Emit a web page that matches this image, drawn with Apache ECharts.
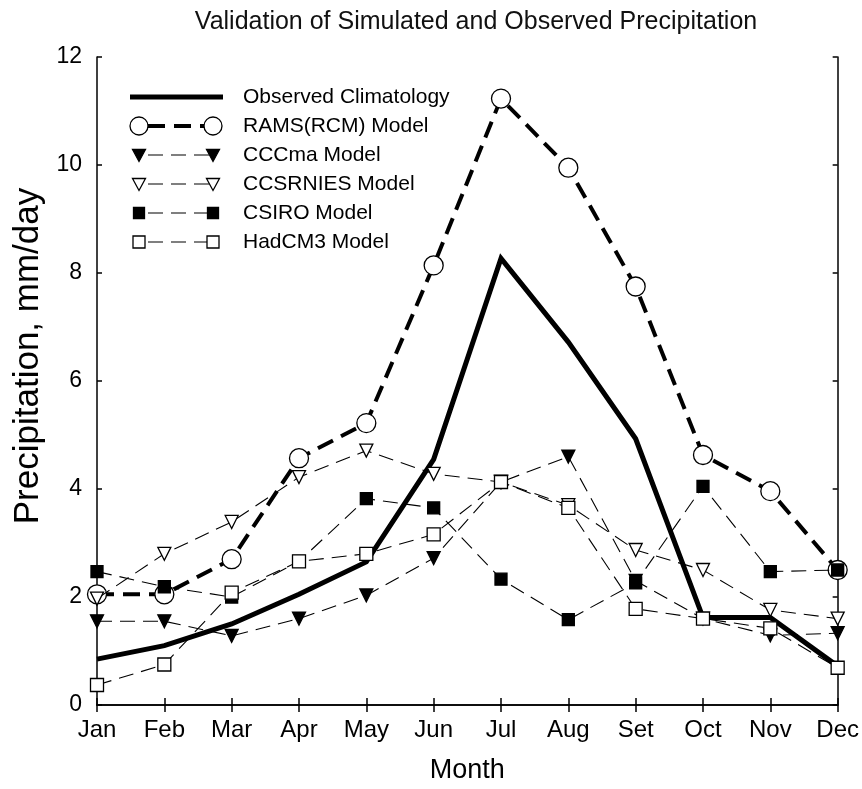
<!DOCTYPE html>
<html>
<head>
<meta charset="utf-8">
<title>Validation of Simulated and Observed Precipitation</title>
<script src="https://cdn.jsdelivr.net/npm/echarts@6/dist/echarts.min.js"></script>
<style>
  html, body { margin: 0; padding: 0; background: #fff; }
  #chart { width: 862px; height: 789px; }
</style>
</head>
<body>
<div id="chart"></div>
<script>
// Monthly mean precipitation (mm/day): observed climatology vs. simulations
var months = ['Jan', 'Feb', 'Mar', 'Apr', 'May', 'Jun', 'Jul', 'Aug', 'Set', 'Oct', 'Nov', 'Dec'];
var yTicks = [0, 2, 4, 6, 8, 10, 12];

var observed = [0.85, 1.10, 1.50, 2.05, 2.65, 4.55, 8.27, 6.72, 4.93, 1.62, 1.62, 0.72];
var rams     = [2.05, 2.05, 2.70, 4.57, 5.22, 8.14, 11.23, 9.95, 7.75, 4.63, 3.96, 2.50];
var cccma    = [1.55, 1.55, 1.28, 1.60, 2.03, 2.72, 4.13, 4.60, 2.30, 1.60, 1.29, 1.33];
var ccsrnies = [1.97, 2.80, 3.39, 4.22, 4.71, 4.28, 4.13, 3.70, 2.87, 2.50, 1.76, 1.60];
var csiro    = [2.47, 2.19, 2.00, 2.66, 3.82, 3.65, 2.33, 1.58, 2.26, 4.05, 2.47, 2.50];
var hadcm3   = [0.37, 0.75, 2.08, 2.66, 2.80, 3.16, 4.13, 3.65, 1.78, 1.60, 1.42, 0.69];

var FONT = '"Liberation Sans", Arial, sans-serif';

// Visual style for each series
var styles = {
  observed: { width: 5, dash: 'solid', symbol: 'none' },
  rams:     { width: 4, dash: [17, 9], symbol: 'circle', size: 19, fill: '#fff', rotate: 0 },
  cccma:    { width: 1.1, dash: [15, 8], symbol: 'triangle', size: 13, fill: '#000', rotate: 180 },
  ccsrnies: { width: 1.1, dash: [15, 8], symbol: 'triangle', size: 13, fill: '#fff', rotate: 180 },
  csiro:    { width: 1.1, dash: [15, 8], symbol: 'rect', size: 12, fill: '#000', rotate: 0 },
  hadcm3:   { width: 1.1, dash: [15, 8], symbol: 'rect', size: 13, fill: '#fff', rotate: 0 }
};

var seriesDefs = [
  { name: 'Observed Climatology', data: observed, st: styles.observed },
  { name: 'RAMS(RCM) Model', data: rams, st: styles.rams },
  { name: 'CCCma Model', data: cccma, st: styles.cccma },
  { name: 'CCSRNIES Model', data: ccsrnies, st: styles.ccsrnies },
  { name: 'CSIRO Model', data: csiro, st: styles.csiro },
  { name: 'HadCM3 Model', data: hadcm3, st: styles.hadcm3 }
];

var series = seriesDefs.map(function (d, i) {
  var s = d.st;
  return {
    name: d.name,
    type: 'line',
    data: d.data,
    z: 2 + i,
    symbol: s.symbol,
    symbolSize: s.size || 0,
    symbolRotate: s.rotate || 0,
    showSymbol: s.symbol !== 'none',
    animation: false,
    lineStyle: { color: '#000', width: s.width, type: s.dash, cap: 'butt', join: 'miter' },
    itemStyle: { color: s.fill || '#000', borderColor: '#000', borderWidth: 1.3, opacity: 1 },
    emphasis: { disabled: true }
  };
});

// Legend drawn as a small key in the upper-left of the plot
var legendGraphics = [];
var keyX0 = 139, keyX1 = 213, textX = 243, rowY0 = 97, rowStep = 29;
seriesDefs.forEach(function (d, i) {
  var s = d.st, y = rowY0 + i * rowStep;
  if (s.symbol === 'none') {
    legendGraphics.push({
      type: 'line', shape: { x1: 130, y1: y, x2: 223, y2: y },
      style: { stroke: '#000', lineWidth: s.width, lineCap: 'butt' }, z: 10
    });
  } else {
    legendGraphics.push({
      type: 'line', shape: { x1: keyX0, y1: y, x2: keyX1, y2: y },
      style: { stroke: '#000', lineWidth: s.width, lineDash: s.dash, lineDashOffset: -9 }, z: 10
    });
    [keyX0, keyX1].forEach(function (cx) {
      var g;
      var h = s.size / 2;
      if (s.symbol === 'circle') {
        g = { type: 'circle', shape: { cx: cx, cy: y, r: h - 0.5 } };
      } else if (s.symbol === 'rect') {
        g = { type: 'rect', shape: { x: cx - h + 0.5, y: y - h + 0.5, width: s.size - 1, height: s.size - 1 } };
      } else {
        g = { type: 'polygon', shape: { points: [[cx - h, y - h + 1], [cx + h, y - h + 1], [cx, y + h]] } };
      }
      g.style = { fill: s.fill, stroke: '#000', lineWidth: 1.3 };
      g.z = 11;
      legendGraphics.push(g);
    });
  }
  legendGraphics.push({
    type: 'text', x: textX, y: y,
    style: { text: d.name, font: '21px ' + FONT, fill: '#000', textVerticalAlign: 'middle', verticalAlign: 'middle' },
    z: 12
  });
});

var axisLineStyle = { color: '#000', width: 1.5 };

var option = {
  backgroundColor: '#fff',
  animation: false,
  title: {
    text: 'Validation of Simulated and Observed Precipitation',
    left: 471,
    top: 5,
    textAlign: 'center',
    textStyle: { fontFamily: FONT, fontSize: 25, fontWeight: 'normal', color: '#111' }
  },
  grid: { left: 97, right: 23, top: 57, bottom: 82, containLabel: false },
  xAxis: [
    {
      type: 'category', data: months, boundaryGap: false, position: 'bottom',
      axisLine: { lineStyle: axisLineStyle },
      axisTick: { inside: true, length: 7, lineStyle: { color: '#000', width: 1.5 } },
      axisLabel: { fontFamily: FONT, fontSize: 24, color: '#000', margin: 13 },
      splitLine: { show: false },
      name: 'Month', nameLocation: 'middle', nameGap: 52,
      nameTextStyle: { fontFamily: FONT, fontSize: 27, color: '#000' }
    },
    {
      type: 'category', data: months, boundaryGap: false, position: 'top',
      axisLine: { lineStyle: axisLineStyle },
      axisTick: { inside: true, length: 7, lineStyle: { color: '#000', width: 1.5 } },
      axisLabel: { show: false },
      splitLine: { show: false }
    }
  ],
  yAxis: [
    {
      type: 'value', min: yTicks[0], max: yTicks[yTicks.length - 1], interval: 2, position: 'left',
      axisLine: { show: true, lineStyle: axisLineStyle },
      axisTick: { show: true, inside: true, length: 5, lineStyle: { color: '#000', width: 1.5 } },
      axisLabel: { fontFamily: FONT, fontSize: 23, color: '#000', margin: 15 },
      splitLine: { show: false },
      name: 'Precipitation, mm/day', nameLocation: 'middle', nameGap: 51, nameRotate: 90,
      nameTextStyle: { fontFamily: FONT, fontSize: 35, color: '#000', padding: [0, 0, 0, 50] }
    },
    {
      type: 'value', min: yTicks[0], max: yTicks[yTicks.length - 1], interval: 2, position: 'right',
      axisLine: { show: true, lineStyle: axisLineStyle },
      axisTick: { show: true, inside: true, length: 5, lineStyle: { color: '#000', width: 1.5 } },
      axisLabel: { show: false },
      splitLine: { show: false }
    }
  ],
  series: series,
  graphic: legendGraphics
};

var chart = echarts.init(document.getElementById('chart'), null, { renderer: 'canvas' });
chart.setOption(option);
</script>
</body>
</html>
